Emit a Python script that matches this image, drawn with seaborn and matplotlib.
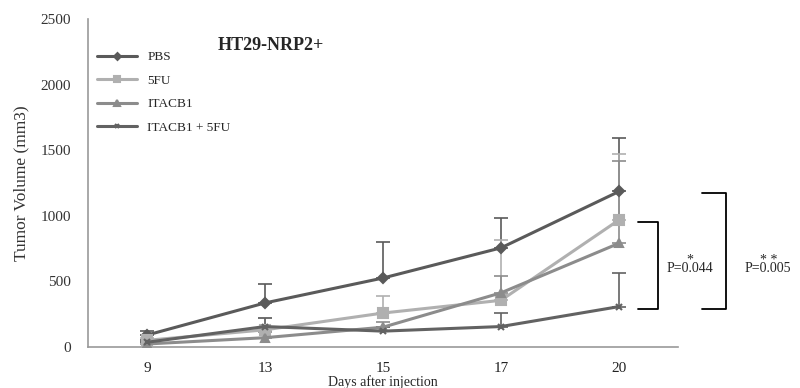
import numpy as np
import pandas as pd
import seaborn as sns
import matplotlib.pyplot as plt

# data
days = ['9', '13', '15', '17', '20']
groups = ['PBS', '5FU', 'ITACB1', 'ITACB1 + 5FU']
pbs = [90, 335, 525, 755, 1185]
fu5 = [50, 130, 258, 355, 968]
itacb1 = [22, 70, 150, 412, 790]
combo = [35, 155, 120, 155, 307]
pbs_err = [30, 145, 275, 228, 405]
fu5_err = [20, 90, 130, 460, 505]
itacb1_err = [15, 40, 40, 125, 630]
combo_err = [15, 65, 30, 106, 257]

means = [pbs, fu5, itacb1, combo]
errs = [pbs_err, fu5_err, itacb1_err, combo_err]
colors = ['#5a5a5a', '#b0b0b0', '#8c8c8c', '#626262']
markers = ['D', 's', '^', 'x']
msizes = [5, 7, 6, 5]

sns.set_style('white')
plt.rcParams['font.family'] = ['Liberation Serif', 'DejaVu Serif']

fig = plt.figure(figsize=(8, 3.88), dpi=100)
ax = fig.add_axes([0.11, 0.106, 0.7375, 0.845])

pos = np.arange(len(days))
for name, m, e, c, mk, ms in zip(groups, means, errs, colors, markers, msizes):
    df = pd.DataFrame({'x': pos, 'y': m})
    ax.errorbar(pos, m, yerr=[np.zeros(len(e)), e], fmt='none', ecolor=c,
                elinewidth=1.2, capsize=5, capthick=1.2, zorder=2)
    sns.lineplot(data=df, x='x', y='y', ax=ax, color=c, linewidth=2.2,
                 marker=mk, markersize=ms, markeredgecolor=c,
                 markeredgewidth=1.5, label=name, zorder=3)

ax.set_xlim(-0.5, len(days) - 0.5)
ax.set_ylim(0, 2500)
ax.set_yticks(range(0, 2501, 500))
ax.set_xticks(pos)
ax.set_xticklabels(days, fontsize=11)
ax.set_xticks(np.arange(-0.5, len(days), 1), minor=True)
ax.tick_params(axis='x', which='major', length=0, pad=11)
ax.tick_params(axis='x', which='minor', length=5, color='#999999', direction='out')
ax.tick_params(axis='y', length=4, color='#999999', direction='out', labelsize=11,
               labelcolor='#333333', pad=8)
ax.tick_params(axis='x', labelcolor='#222222')
sns.despine(ax=ax)
for s in ['left', 'bottom']:
    ax.spines[s].set_color('#999999')
    ax.spines[s].set_linewidth(1.2)

ax.set_xlabel('Days after injection', fontsize=10, labelpad=0)
ax.set_ylabel('Tumor Volume (mm3)', fontsize=12.5, color='#333333', labelpad=8)
ax.text(0.22, 0.92, 'HT29-NRP2+', transform=ax.transAxes, fontsize=13,
        fontweight='bold', va='center')

ax.legend(loc='upper left', bbox_to_anchor=(0.0, 0.93), frameon=False,
          fontsize=9.5, handlelength=3.0, labelspacing=0.85, borderaxespad=0.3,
          markerscale=0.7)

# significance brackets (outside the axes, in data y units)
def bracket(x0, x1, ytop, ybot):
    ax.plot([x0, x1, x1, x0], [ytop, ytop, ybot, ybot], color='black',
            linewidth=1.3, clip_on=False, transform=ax.get_yaxis_transform())

bracket(0.932, 0.966, 950, 290)
bracket(1.041, 1.081, 1170, 290)
ax.text(1.02, 630, '*\nP=0.044', transform=ax.get_yaxis_transform(),
        fontsize=10, ha='center', va='center', linespacing=0.55)
ax.text(1.153, 630, '* *\nP=0.005', transform=ax.get_yaxis_transform(),
        fontsize=10, ha='center', va='center', linespacing=0.55)

fig.savefig('out.png', dpi=100)
